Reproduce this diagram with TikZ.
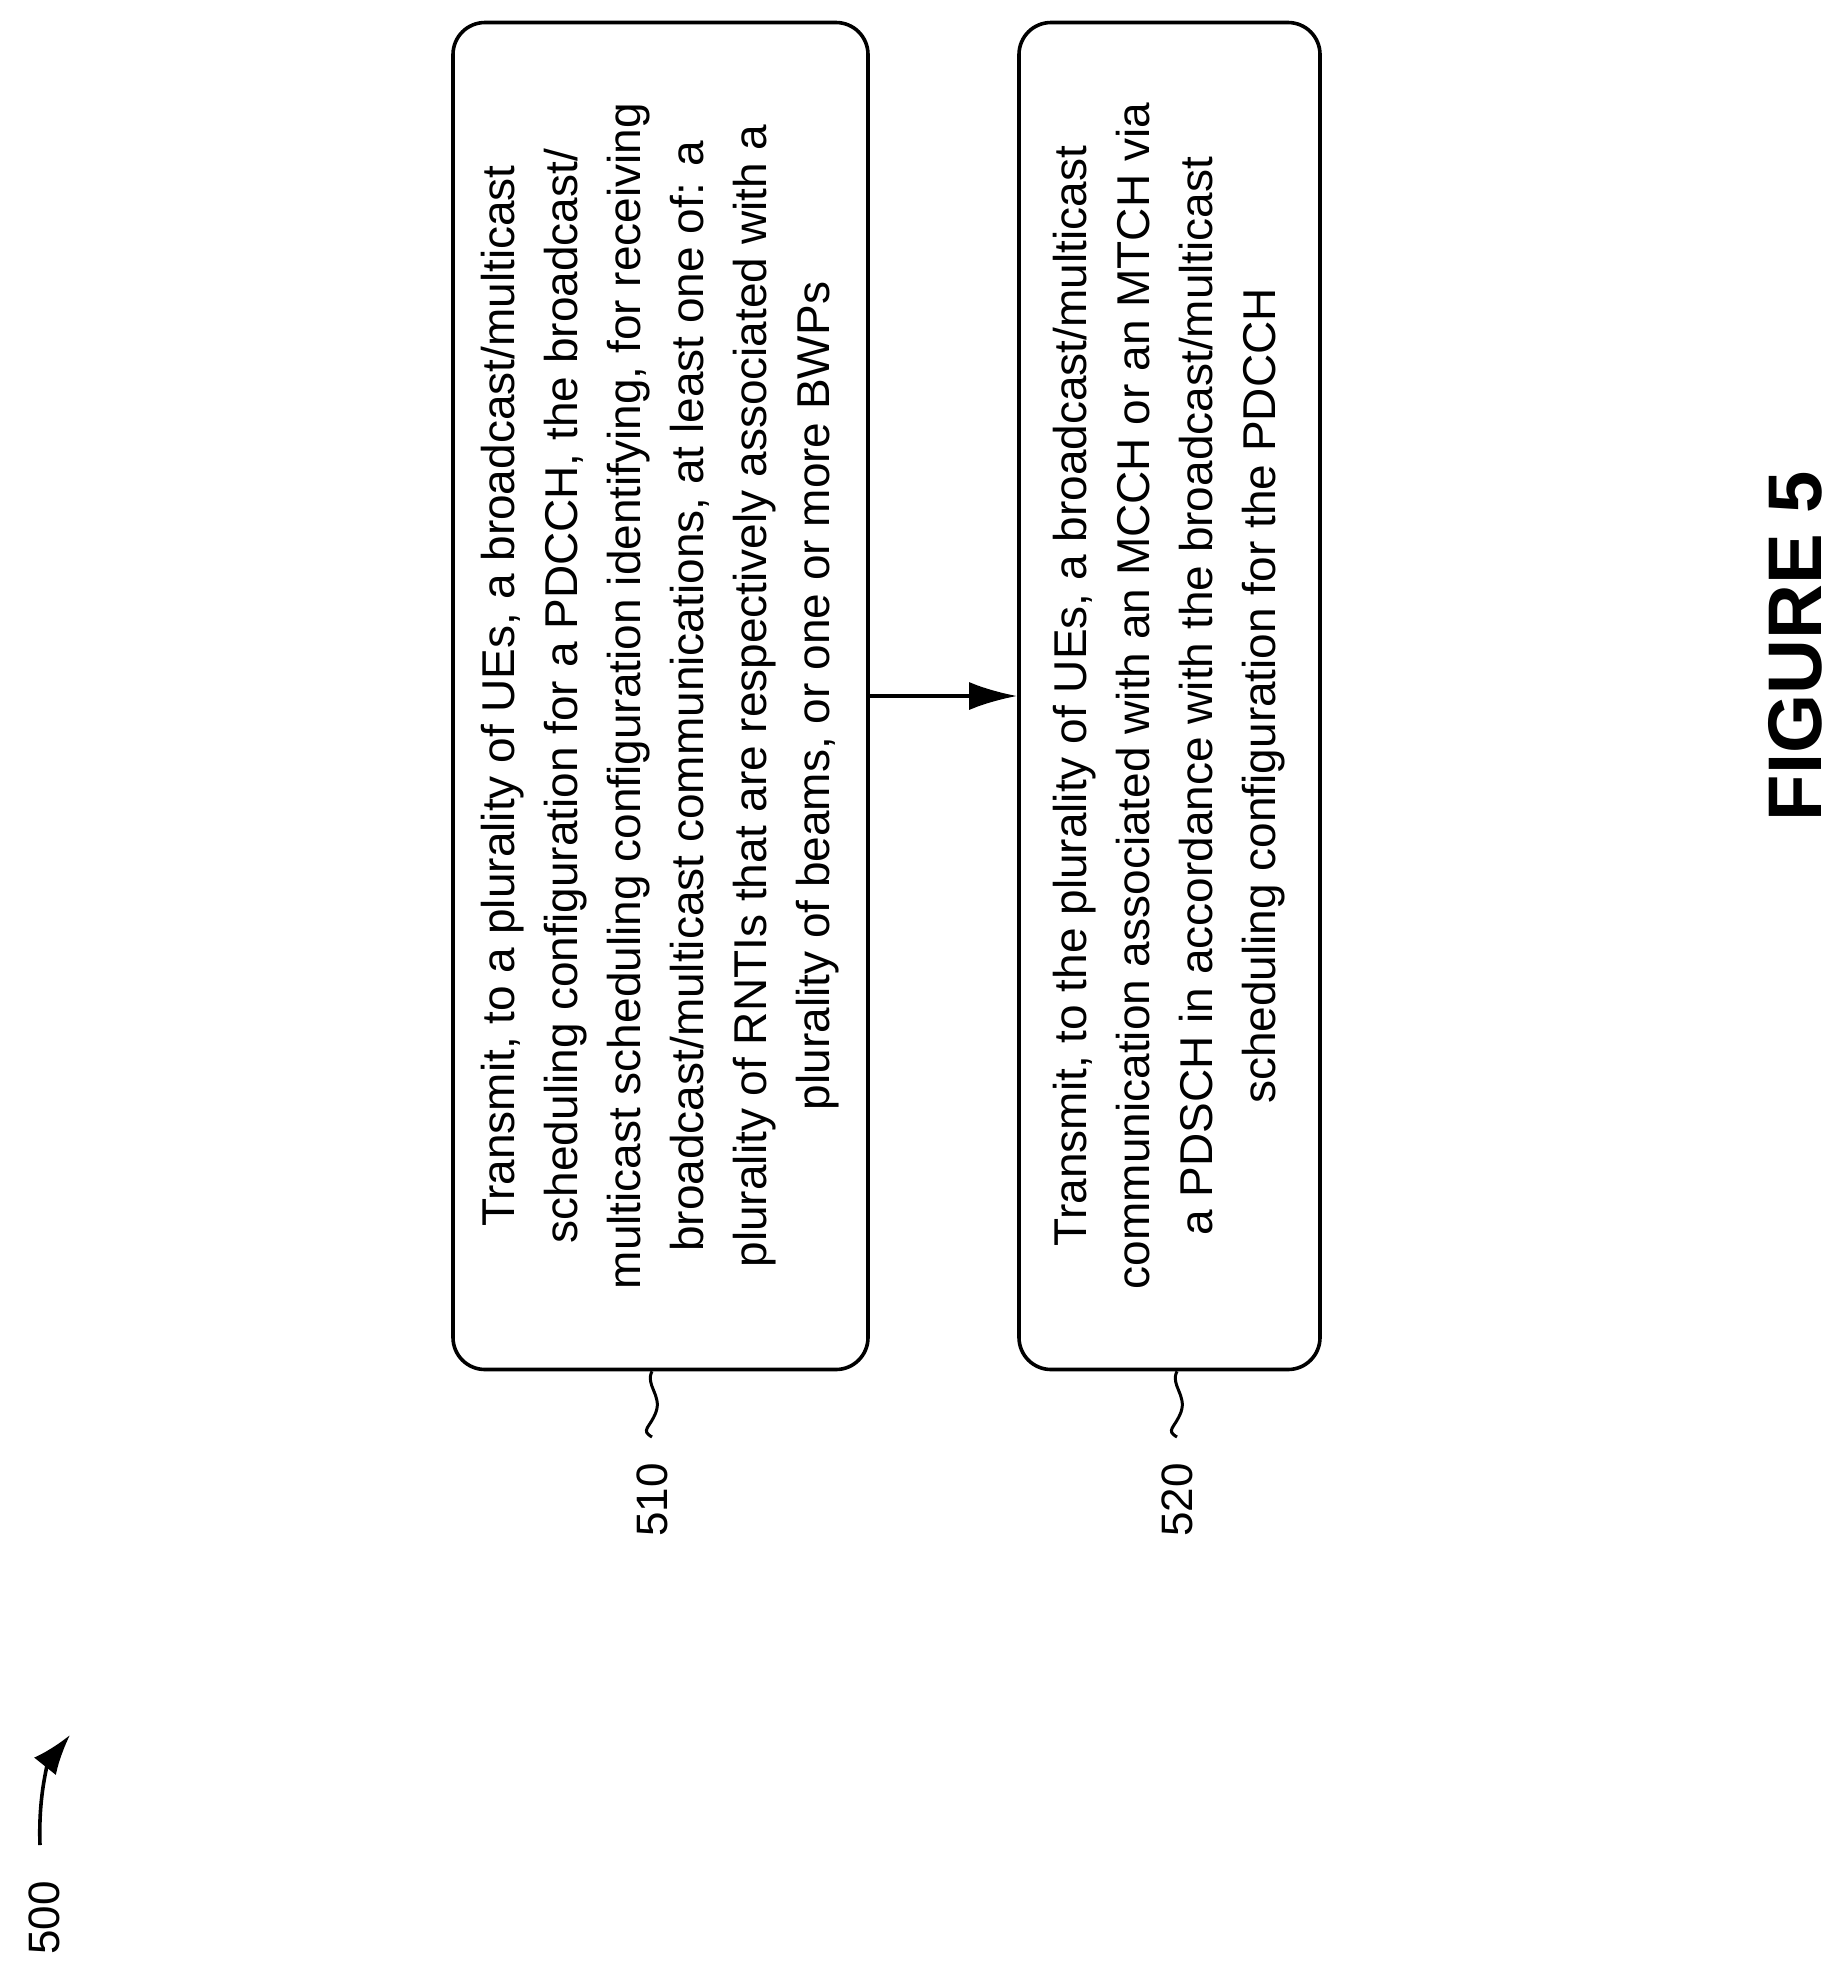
\documentclass[tikz,border=0pt]{standalone}
\usepackage{fontspec}
\setmainfont{Liberation Sans}
\usetikzlibrary{arrows.meta}
\begin{document}
\begin{tikzpicture}[x=0.5pt,y=0.5pt,
  stepbox/.style={draw,line width=1.8pt,rounded corners=16pt,rotate=90,align=center,
    font=\fontsize{23}{31.5}\selectfont,inner sep=0pt},
  reflabel/.style={rotate=90,font=\fontsize{22}{25}\selectfont,inner sep=0pt}]
	\useasboundingbox (0,0) rectangle (1836,-1977);
	\node[stepbox,minimum width=673.5pt,minimum height=207.5pt] (b510) at (660.5,-696) {Transmit,  to a plurality of UEs,  a broadcast/multicast\\scheduling configuration for a PDCCH, the broadcast/\\multicast scheduling configuration identifying, for receiving\\broadcast/multicast communications,  at least one of: a\\plurality of RNTIs that are respectively associated with a\\plurality of beams,  or one or more BWPs};
	\node[stepbox,minimum width=673.5pt,minimum height=150.5pt] (b520) at (1169.5,-696) {Transmit,  to the plurality of UEs,  a broadcast/multicast\\communication associated with an MCCH or an MTCH via\\a PDSCH in accordance with the broadcast/multicast\\scheduling configuration for the PDCCH};
	\draw[line width=1.8pt,-{Latex[length=24pt,width=14pt]}] (b510.south) -- (b520.north);

	\node[reflabel] (l510) at (652,-1500) {510};
	\node[reflabel] (l520) at (1177,-1500) {520};
	\draw[line width=1.5pt] (b510.west -| l510) .. controls (645,-1385) and (662,-1395) .. (656,-1412) .. controls (650,-1428) and (640,-1430) .. (652,-1437);
	\draw[line width=1.5pt] (b520.west -| l520) .. controls (1170,-1385) and (1187,-1395) .. (1181,-1412) .. controls (1175,-1428) and (1165,-1430) .. (1177,-1437);

	\node[reflabel] (l500) at (44,-1918) {500};
	\draw[line width=1.8pt,-{Latex[length=20pt,width=14pt]}] (40,-1845) .. controls (38,-1790) and (50,-1760) .. (70,-1735);
	\node[rotate=90,font=\fontsize{38}{44}\selectfont\bfseries,inner sep=0pt] (fig) at (1795,-646) {FIGURE 5};
\end{tikzpicture}
\end{document}
